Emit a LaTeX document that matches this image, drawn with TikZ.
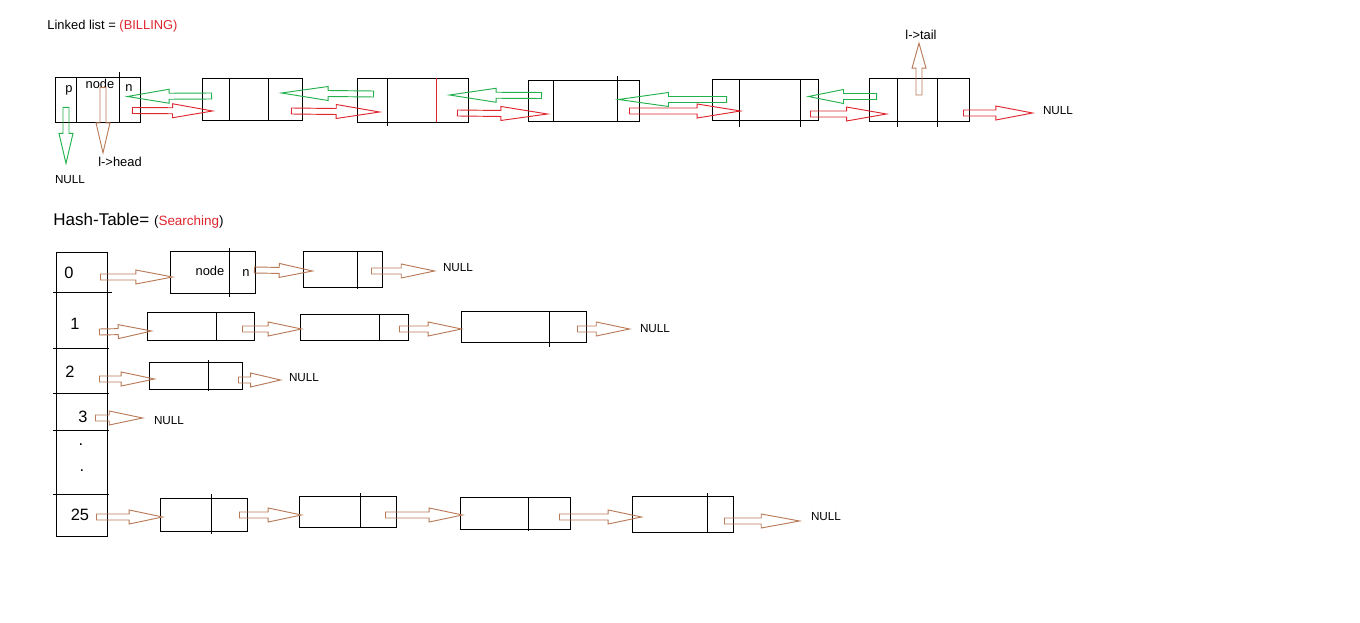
\documentclass[tikz,border=0pt]{standalone}
\usepackage{fontspec}
\setmainfont{Liberation Sans}
\usepackage{tikz}
\usetikzlibrary{calc}

\definecolor{paintbrown}{RGB}{185,122,87}
\definecolor{paintred}{RGB}{222,38,46}
\definecolor{paintgreen}{RGB}{34,177,76}

\tikzset{
  cellbox/.style={draw, line width=0.8pt, inner sep=0pt},
  cellsize/.style 2 args={minimum width=#1*0.03cm, minimum height=#2*0.03cm},
  lbl/.style={inner sep=0pt, font=\fontsize{11}{13}\selectfont},
  nulltxt/.style={inner sep=0pt, font=\fontsize{10}{12}\selectfont},
  idx/.style={inner sep=0pt, font=\fontsize{14}{16}\selectfont},
  % hollow block arrow, #1 = length of the head
  blk/.style={line width=0.7pt, to path={
      let \p1=(\tikztostart), \p2=(\tikztotarget),
          \n1={atan2(\y2-\y1,\x2-\x1)} in
      ($(\p1)+({\n1+90}:0.09cm)$)
      -- ($(\p2)+({\n1+180}:#1)+({\n1+90}:0.09cm)$)
      -- ($(\p2)+({\n1+180}:#1)+({\n1+90}:0.21cm)$)
      -- (\p2)
      -- ($(\p2)+({\n1+180}:#1)+({\n1-90}:0.21cm)$)
      -- ($(\p2)+({\n1+180}:#1)+({\n1-90}:0.09cm)$)
      -- ($(\p1)+({\n1-90}:0.09cm)$)
      -- cycle}},
  blk/.default=1cm
}

\begin{document}
\begin{tikzpicture}[x=0.03cm, y=-0.03cm, line width=0.8pt]
  \useasboundingbox (0,0) rectangle (1360,623);

  % Linked list heading
  \node[lbl, anchor=west] (lltitle) at (47,26) {Linked list = \textcolor{paintred}{(BILLING)}};

  % Define the list nodes
  \node[cellbox, cellsize={85}{45}] (l1) at (97.5,99.5) {};
  \node[cellbox, cellsize={100}{42}] (l2) at (252,99) {};
  \node[cellbox, cellsize={111}{44}] (l3) at (412.5,100) {};
  \node[cellbox, cellsize={111}{41}] (l4) at (583.5,100.5) {};
  \node[cellbox, cellsize={106}{41}] (l5) at (765,99.5) {};
  \node[cellbox, cellsize={100}{43}] (l6) at (919,99.5) {};

  % Cell dividers
  \foreach \x/\a/\b in {76/77/122, 119/72/122, 229/78/120, 268/78/120,
      387/78/126, 553/80/121, 617/76/121, 739/79/127, 800/79/127,
      897/78/127, 937/78/127}
    \draw (\x,\a) -- (\x,\b);
  \draw[paintred] (436,78) -- (436,122);

  % Texts of the first node
  \node[lbl] (ptxt) at (69,90) {p};
  \node[lbl] (nodetxt) at (100,84) {node};
  \node[lbl] (ntxt) at (129,88) {n};
  \node[nulltxt] (nl0) at (70,180) {NULL};
  \node[lbl] (headtxt) at (120,162) {l->head};
  \node[lbl] (tailtxt) at (921,35) {l->tail};
  \node[nulltxt] (nl1) at (1058,111) {NULL};

  % prev pointers
  \draw[paintgreen] ([shift={(10,-3)}]l2.west) to[blk=1.25cm] ([shift={(-13,-3)}]l1.east);
  \draw[paintgreen] ([shift={(17,-6)}]l3.west) to[blk=1.4cm] ([shift={(-21,-6)}]l2.east);
  \draw[paintgreen] ([shift={(14,-5)}]l4.west) to[blk=1.4cm] ([shift={(-19,-5)}]l3.east);
  \draw[paintgreen] ([shift={(15,0)}]l5.west) to[blk=1.5cm] ([shift={(-21,-1)}]l4.east);
  \draw[paintgreen] ([shift={(8,-3)}]l6.west) to[blk=1.05cm] ([shift={(-10,-3)}]l5.east);
  \draw[paintgreen] ([shift={(-31.5,-15)}]l1.south) to[blk=0.9cm] ([shift={(-4,-12)}]nl0.north);

  % next pointers
  \draw[paintred] ([shift={(-8,11)}]l1.east) to[blk=1.2cm] ([shift={(11,12)}]l2.west);
  \draw[paintred] ([shift={(-11,12)}]l2.east) to[blk=1.3cm] ([shift={(23,12)}]l3.west);
  \draw[paintred] ([shift={(-11,13)}]l3.east) to[blk=1.4cm] ([shift={(20,13.5)}]l4.west);
  \draw[paintred] ([shift={(-10,10.5)}]l4.east) to[blk=1.3cm] ([shift={(29,11.5)}]l5.west);
  \draw[paintred] ([shift={(-8,14.5)}]l5.east) to[blk=1.2cm] ([shift={(18,14.5)}]l6.west);
  \draw[paintred] ([shift={(-6,13.5)}]l6.east) to[blk=1.1cm] ([shift={(-10,2)}]nl1.west);

  % head and tail
  \draw[paintbrown] ([shift={(5.5,11)}]l1.north) to[blk=0.9cm] ([shift={(-17,-4)}]headtxt.north);
  \draw[paintbrown] ([shift={(0,-4.5)}]l6.center) to[blk=0.75cm] ([shift={(-2,3)}]tailtxt.south);

  % Hash table heading
  \node[anchor=west, inner sep=0pt] (httitle) at (53,221)
    {\fontsize{14.5}{17}\selectfont Hash-Table= \fontsize{11.5}{14}\selectfont(\textcolor{paintred}{Searching})};

  % Define the table rows
  \node[cellbox, cellsize={51}{40}] (h0) at (81.5,272) {};
  \node[cellbox, cellsize={51}{56}] (h1) at (81.5,320) {};
  \node[cellbox, cellsize={51}{45}] (h2) at (81.5,370.5) {};
  \node[cellbox, cellsize={51}{37}] (h3) at (81.5,411.5) {};
  \node[cellbox, cellsize={51}{64}] (hdots) at (81.5,462) {};
  \node[cellbox, cellsize={51}{42}] (h25) at (81.5,515) {};

  % row lines run a little past the table
  \draw (53,292) -- (112,292);
  \foreach \y in {348, 393, 430, 494}
    \draw (53,\y) -- (109,\y);

  \node[idx] (k0) at (69,273) {0};
  \node[idx] (k1) at (75,324) {1};
  \node[idx] (k2) at (70,372) {2};
  \node[idx] (k3) at (83,417) {3};
  \node[idx] (kd1) at (81,445) {.};
  \node[idx] (kd2) at (82,471) {.};
  \node[idx] (k25) at (80,515) {25};

  % Chain nodes
  \node[cellbox, cellsize={85}{42}] (c01) at (212.5,272) {};
  \node[cellbox, cellsize={79}{36}] (c02) at (342.5,269) {};
  \node[cellbox, cellsize={107}{28}] (c11) at (200.5,326) {};
  \node[cellbox, cellsize={108}{26}] (c12) at (354,327) {};
  \node[cellbox, cellsize={125}{31}] (c13) at (523.5,326.5) {};
  \node[cellbox, cellsize={93}{27}] (c21) at (195.5,375.5) {};
  \node[cellbox, cellsize={87}{33}] (c251) at (203.5,514.5) {};
  \node[cellbox, cellsize={97}{31}] (c252) at (347.5,511.5) {};
  \node[cellbox, cellsize={110}{32}] (c253) at (515,513) {};
  \node[cellbox, cellsize={101}{36}] (c254) at (682.5,514) {};

  \foreach \x/\a/\b in {229/248/297, 357/251/289, 216/312/340, 379/314/340,
      549/311/347, 208/360/391, 211/494/534, 360/493/528, 528/497/531,
      707/493/532}
    \draw (\x,\a) -- (\x,\b);

  \node[lbl] (c01node) at (210,271) {node};
  \node[lbl] (c01n) at (246,273) {n};

  % NULL ends
  \node[nulltxt] (n0) at (458,268) {NULL};
  \node[nulltxt] (n1) at (655,329) {NULL};
  \node[nulltxt] (n2) at (304,378) {NULL};
  \node[nulltxt] (n3) at (169,421) {NULL};
  \node[nulltxt] (n25) at (826,517) {NULL};

  % Chain pointers
  \draw[paintbrown] ([shift={(-7,5)}]h0.east) to[blk=1.1cm] ([shift={(3,5)}]c01.west);
  \draw[paintbrown] ([shift={(-1,-2)}]c01.east) to[blk] ([shift={(10,2)}]c02.west);
  \draw[paintbrown] ([shift={(-11,2)}]c02.east) to[blk] ([shift={(-8,3)}]n0.west);

  \draw[paintbrown] ([shift={(-8,12)}]h1.east) to[blk] ([shift={(5,5)}]c11.west);
  \draw[paintbrown] ([shift={(-12,3)}]c11.east) to[blk] ([shift={(2,2)}]c12.west);
  \draw[paintbrown] ([shift={(-9,2)}]c12.east) to[blk] ([shift={(1,2.5)}]c13.west);
  \draw[paintbrown] ([shift={(-9,2.5)}]c13.east) to[blk] ([shift={(-10,0)}]n1.west);

  \draw[paintbrown] ([shift={(-8,8.5)}]h2.east) to[blk] ([shift={(6,3.5)}]c21.west);
  \draw[paintbrown] ([shift={(-4,4.5)}]c21.east) to[blk=0.9cm] ([shift={(-8,2)}]n2.west);

  \draw[paintbrown] ([shift={(-12,6.5)}]h3.east) to[blk] ([shift={(-11,-3)}]n3.west);

  \draw[paintbrown] ([shift={(-11,2)}]h25.east) to[blk] ([shift={(3,2.5)}]c251.west);
  \draw[paintbrown] ([shift={(-8,0.5)}]c251.east) to[blk] ([shift={(3,3.5)}]c252.west);
  \draw[paintbrown] ([shift={(-11,3.5)}]c252.east) to[blk] ([shift={(3,2)}]c253.west);
  \draw[paintbrown] ([shift={(-11,4)}]c253.east) to[blk] ([shift={(10,3)}]c254.west);
  \draw[paintbrown] ([shift={(-9,7)}]c254.east) to[blk=1.15cm] ([shift={(-11,4)}]n25.west);
\end{tikzpicture}
\end{document}
